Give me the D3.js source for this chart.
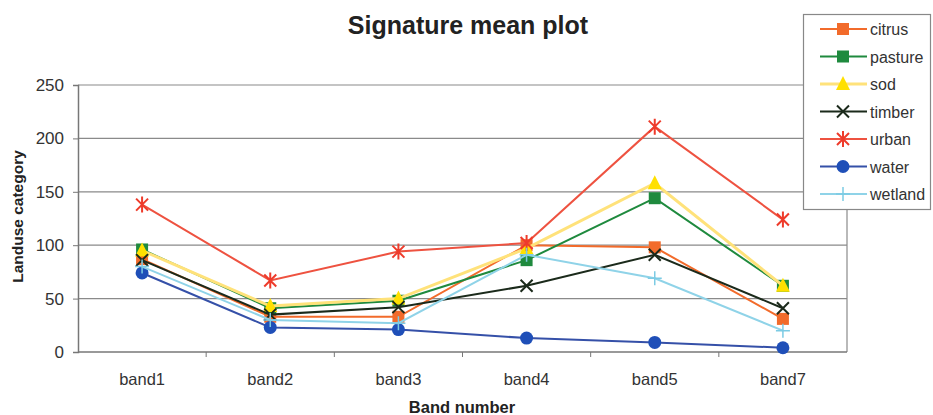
<!DOCTYPE html>
<html>
<head>
<meta charset="utf-8">
<script src="https://cdn.jsdelivr.net/npm/d3@7"></script>
<style>
  body { margin: 0; background: #fff; }
  svg { font-family: "Liberation Sans", Arial, sans-serif; }
</style>
</head>
<body>
<div id="chart"></div>
<script>
const bands = ["band1", "band2", "band3", "band4", "band5", "band7"];
const yTicks = [0, 50, 100, 150, 200, 250];

const citrus  = [87, 33, 33, 100, 98, 31];
const pasture = [96, 41, 48, 86, 144, 62];
const sod     = [95, 43, 50, 97, 158, 62];
const timber  = [86, 35, 42, 62, 91, 41];
const urban   = [138, 67, 94, 102, 211, 124];
const water   = [74, 23, 21, 13, 9, 4];
const wetland = [80, 30, 27, 91, 69, 20];

const series = [
  {name: "citrus",  values: citrus,  line: "#f26b2b", fill: "#f26b2b", shape: "square"},
  {name: "pasture", values: pasture, line: "#1f8a3e", fill: "#1f8a3e", shape: "square"},
  {name: "sod",     values: sod,     line: "#ffe27a", fill: "#ffe000", shape: "triangle"},
  {name: "timber",  values: timber,  line: "#1b2a1b", fill: "#1b2a1b", shape: "x"},
  {name: "urban",   values: urban,   line: "#ee5240", fill: "#ee3b2b", shape: "star"},
  {name: "water",   values: water,   line: "#3550a8", fill: "#1f4fb8", shape: "circle"},
  {name: "wetland", values: wetland, line: "#8fd3e8", fill: "#7ccbe4", shape: "plus"}
];

const W = 933, H = 415;
const margin = {left: 78, right: 86, top: 85, bottom: 63};

const svg = d3.select("#chart").append("svg")
  .attr("width", W)
  .attr("height", H);

const x = d3.scaleBand()
  .domain(bands)
  .range([margin.left, W - margin.right]);
const y = d3.scaleLinear()
  .domain([0, 250])
  .range([H - margin.bottom, margin.top]);

// gridlines
svg.append("g")
  .selectAll("line")
  .data(yTicks.filter(d => d > 0))
  .join("line")
  .attr("x1", margin.left).attr("x2", W - margin.right)
  .attr("y1", d => y(d)).attr("y2", d => y(d))
  .attr("stroke", "#8a8a8a").attr("stroke-width", 1.2);

// right border
svg.append("line")
  .attr("x1", W - margin.right).attr("x2", W - margin.right)
  .attr("y1", y(250)).attr("y2", y(0))
  .attr("stroke", "#8a8a8a").attr("stroke-width", 1.2);

// y axis
const yAxis = svg.append("g")
  .attr("transform", "translate(" + margin.left + ",0)")
  .call(d3.axisLeft(y).tickValues(yTicks).tickSize(5).tickPadding(9));
yAxis.select(".domain").attr("stroke", "#777").attr("stroke-width", 1.5);
yAxis.selectAll(".tick line").attr("stroke", "#777");
yAxis.selectAll("text").attr("font-size", 17).attr("fill", "#333")
  .attr("font-family", "Liberation Sans, Arial, sans-serif");

// x axis: ticks at band boundaries
const xAxis = svg.append("g")
  .attr("transform", "translate(0," + y(0) + ")");
xAxis.append("line")
  .attr("x1", margin.left).attr("x2", W - margin.right)
  .attr("stroke", "#777").attr("stroke-width", 1.5);
xAxis.selectAll(".bt")
  .data(bands.slice(1))
  .join("line")
  .attr("class", "bt")
  .attr("x1", d => x(d)).attr("x2", d => x(d))
  .attr("y1", 0).attr("y2", 5)
  .attr("stroke", "#777");
xAxis.selectAll("text")
  .data(bands)
  .join("text")
  .attr("x", d => x(d) + x.bandwidth() / 2)
  .attr("y", 33)
  .attr("text-anchor", "middle")
  .attr("font-size", 16.5)
  .attr("fill", "#333")
  .text(d => d);

// titles
svg.append("text")
  .attr("x", 468).attr("y", 34)
  .attr("text-anchor", "middle")
  .attr("font-size", 25).attr("font-weight", "bold").attr("fill", "#222")
  .text("Signature mean plot");
svg.append("text")
  .attr("x", 462).attr("y", 413)
  .attr("text-anchor", "middle")
  .attr("font-size", 16.5).attr("font-weight", "bold").attr("fill", "#222")
  .text("Band number");
svg.append("text")
  .attr("transform", "translate(23," + ((y(0) + y(250)) / 2 - 2) + ") rotate(-90)")
  .attr("text-anchor", "middle")
  .attr("font-size", 15.5).attr("font-weight", "bold").attr("fill", "#222")
  .text("Landuse category");

function drawMarker(g, s, cx, cy) {
  if (s.shape === "square") {
    g.append("rect").attr("x", cx - 6).attr("y", cy - 6).attr("width", 12).attr("height", 12)
      .attr("fill", s.fill);
  } else if (s.shape === "triangle") {
    g.append("path").attr("d", `M${cx},${cy - 8}L${cx + 7},${cy + 6}L${cx - 7},${cy + 6}Z`)
      .attr("fill", s.fill);
  } else if (s.shape === "circle") {
    g.append("circle").attr("cx", cx).attr("cy", cy).attr("r", 6.5).attr("fill", s.fill);
  } else if (s.shape === "x") {
    g.append("path").attr("d", `M${cx - 6},${cy - 6}L${cx + 6},${cy + 6}M${cx - 6},${cy + 6}L${cx + 6},${cy - 6}`)
      .attr("stroke", s.fill).attr("stroke-width", 2).attr("fill", "none");
  } else if (s.shape === "star") {
    g.append("path").attr("d", `M${cx - 6},${cy - 6}L${cx + 6},${cy + 6}M${cx - 6},${cy + 6}L${cx + 6},${cy - 6}M${cx},${cy - 8}L${cx},${cy + 8}`)
      .attr("stroke", s.fill).attr("stroke-width", 2).attr("fill", "none");
  } else if (s.shape === "plus") {
    g.append("path").attr("d", `M${cx - 7},${cy}L${cx + 7},${cy}M${cx},${cy - 7}L${cx},${cy + 7}`)
      .attr("stroke", s.fill).attr("stroke-width", 1.5).attr("fill", "none");
  }
}

// series lines & markers
const line = d3.line()
  .x((d, i) => x(bands[i]) + x.bandwidth() / 2)
  .y(d => y(d));

series.forEach(s => {
  const g = svg.append("g");
  g.append("path")
    .datum(s.values)
    .attr("d", line)
    .attr("fill", "none")
    .attr("stroke", s.line)
    .attr("stroke-width", s.name === "sod" ? 3 : 2);
  s.values.forEach((v, i) => drawMarker(g, s, x(bands[i]) + x.bandwidth() / 2, y(v)));
});

// legend
const lg = svg.append("g");
lg.append("rect")
  .attr("x", 803.5).attr("y", 14.5).attr("width", 127).attr("height", 195)
  .attr("fill", "#fff").attr("stroke", "#888").attr("stroke-width", 1.2);
series.forEach((s, i) => {
  const cy = 29 + i * 27.5;
  lg.append("line")
    .attr("x1", 820).attr("x2", 867).attr("y1", cy).attr("y2", cy)
    .attr("stroke", s.line).attr("stroke-width", s.name === "sod" ? 3 : 2);
  drawMarker(lg, s, 843, cy);
  lg.append("text")
    .attr("x", 870).attr("y", cy + 6)
    .attr("font-size", 16).attr("fill", "#333")
    .text(s.name);
});
</script>
</body>
</html>
